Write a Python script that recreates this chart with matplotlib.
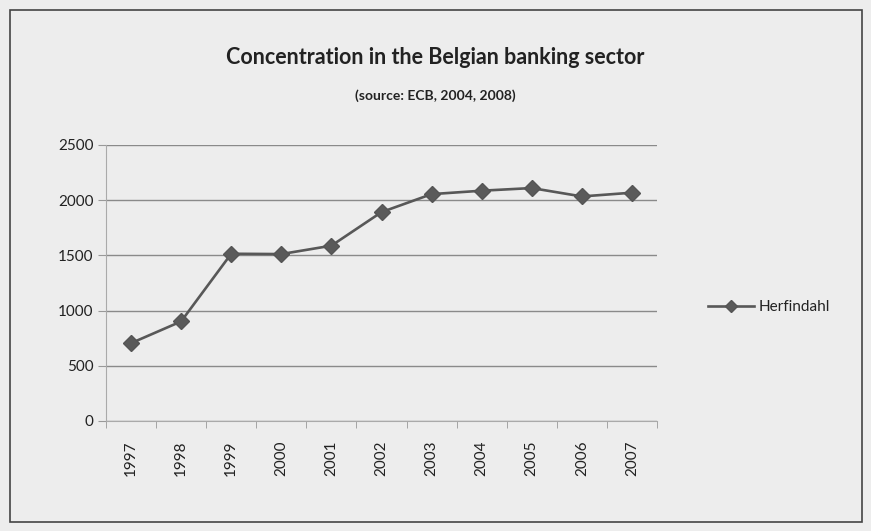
import matplotlib.pyplot as plt
import numpy as np
from matplotlib.patches import Rectangle

plt.rcParams['font.family'] = ['Lato', 'DejaVu Sans']

# Herfindahl index, Belgian banking sector (ECB 2004, 2008)
years = ['1997', '1998', '1999', '2000', '2001', '2002',
         '2003', '2004', '2005', '2006', '2007']
herfindahl = [705, 902, 1515, 1512, 1588, 1892, 2055, 2086, 2110, 2034, 2068]
y_ticks = [0, 500, 1000, 1500, 2000, 2500]

bg = '#ededed'
fig = plt.figure(figsize=(8.71, 5.31), dpi=100, facecolor=bg)

# chart frame
fig.patches.append(Rectangle((10 / 871, 9 / 531), 852 / 871, 512 / 531,
                             transform=fig.transFigure, fill=False,
                             edgecolor='#444444', linewidth=1.2))

ax = fig.add_axes([106 / 871, 1 - 421 / 531, 551 / 871, 276 / 531])
ax.set_facecolor(bg)

x = np.arange(len(years))
line, = ax.plot(x, herfindahl, color='#585858', lw=1.9, marker='D',
                markersize=8.5, markerfacecolor='#5a5a5a',
                markeredgecolor='#555555', label='Herfindahl')

ax.set_xlim(-0.5, len(years) - 0.5)
ax.set_ylim(0, 2500)
ax.set_yticks(y_ticks)
ax.set_yticklabels([str(v) for v in y_ticks], fontsize=11, color='#222222')
ax.yaxis.grid(True, color='#8a8a8a', lw=1)
ax.set_axisbelow(True)

ax.set_xticks(x)
ax.set_xticklabels(years, rotation=90, fontsize=11, color='#222222')
ax.tick_params(axis='x', which='major', length=0, pad=14)
ax.set_xticks(np.arange(len(years) + 1) - 0.5, minor=True)
ax.tick_params(axis='x', which='minor', length=5, color='#999999')
ax.tick_params(axis='y', length=6, color='#999999', pad=3)

for s in ['top', 'right']:
    ax.spines[s].set_visible(False)
ax.spines['left'].set_color('#aaaaaa')
ax.spines['bottom'].set_color('#aaaaaa')

fig.text(0.5, 1 - 57 / 531, 'Concentration in the Belgian banking sector',
         ha='center', va='center', fontsize=15.5, fontweight='bold',
         color='#222222')
fig.text(0.5, 1 - 96 / 531, '(source: ECB, 2004, 2008)',
         ha='center', va='center', fontsize=10, fontweight='bold',
         color='#222222')

fig.legend(handles=[line], loc='center left',
           bbox_to_anchor=(694 / 871, 1 - 307 / 531), frameon=False,
           fontsize=11, handlelength=3.0, handletextpad=0.3,
           markerscale=0.75, labelcolor='#222222')

fig.savefig('out.png', dpi=100, facecolor=bg)
